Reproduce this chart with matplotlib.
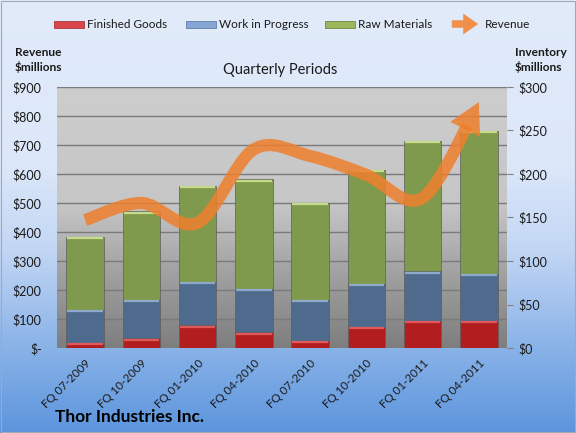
import numpy as np
import matplotlib
matplotlib.use("Agg")
import matplotlib.pyplot as plt
import matplotlib.transforms as mtransforms
from matplotlib.path import Path
from matplotlib.patches import PathPatch, Rectangle, FancyArrowPatch
from matplotlib.colors import LinearSegmentedColormap

# === DATA ===

quarters = ["FQ 07-2009", "FQ 10-2009", "FQ 01-2010", "FQ 04-2010",
            "FQ 07-2010", "FQ 10-2010", "FQ 01-2011", "FQ 04-2011"]

# inventory, $ millions (right axis)
finished_goods = [6, 11, 26, 18, 8, 24, 31, 31]
work_in_progress = [38, 44, 50, 50, 47, 50, 57, 54]
raw_materials = [84, 102, 110, 126, 112, 131, 150, 165]

# revenue, $ millions (left axis)
revenue = [441, 500, 432, 685, 662, 597, 518, 848]

revenue_ticks = [0, 100, 200, 300, 400, 500, 600, 700, 800, 900]
revenue_tick_labels = ["$-", "$100", "$200", "$300", "$400", "$500",
                       "$600", "$700", "$800", "$900"]
inventory_ticks = [0, 50, 100, 150, 200, 250, 300]
inventory_tick_labels = ["$0", "$50", "$100", "$150", "$200", "$250", "$300"]

# === STYLE ===

plt.rcParams["font.family"] = ["Lato", "DejaVu Sans"]

W, H = 576, 433
RED, BLUE, GREEN = "#B21E1F", "#4E6B8E", "#7F9A4C"
RED_HI, BLUE_HI, GREEN_HI = "#E0585A", "#8EA9CB", "#C6DC8A"
ORANGE = "#EE7F2D"
TEXT = "#1A1A1A"


def fx(px):
    return px / W


def fy(py):
    return 1 - py / H


fig = plt.figure(figsize=(W / 100, H / 100), dpi=100)

# figure background gradient
bg = fig.add_axes([0, 0, 1, 1], zorder=-10)
bg_cmap = LinearSegmentedColormap.from_list(
    "fig_bg", [(0.0, "#5C95DD"), (0.2, "#8AB3E8"), (0.42, "#C2D6F4"),
               (0.62, "#DCE7F9"), (1.0, "#E1EBFA")])
bg.imshow(np.linspace(0, 1, 256).reshape(-1, 1), cmap=bg_cmap, origin="lower",
          aspect="auto", extent=[0, 1, 0, 1])
bg.set_xlim(0, 1)
bg.set_ylim(0, 1)
bg.set_axis_off()
fig.add_artist(Rectangle((0.002, 0.002), 0.996, 0.995, transform=fig.transFigure,
                         fill=False, edgecolor="#9FA9B8", linewidth=0.8))

# plot area
left, right, top, bottom = 57, 507, 87, 348
ax = fig.add_axes([fx(left), fy(bottom), (right - left) / W, (bottom - top) / H])
ax.patch.set_visible(False)
ax2 = ax.twinx()

plot_cmap = LinearSegmentedColormap.from_list(
    "plot_bg", [(0.0, "#7E7E7E"), (0.3, "#A3A3A3"), (0.55, "#C6C6C6"),
                (1.0, "#CDCDCD")])
ax.imshow(np.linspace(0, 1, 256).reshape(-1, 1), cmap=plot_cmap, origin="lower",
          aspect="auto", extent=[0, 1, 0, 1], transform=ax.transAxes, zorder=0)

n = len(quarters)
x = np.arange(n)
ax.set_xlim(-0.5, n - 0.5)
ax.set_ylim(0, 300)

# gridlines follow the revenue scale
for t in revenue_ticks[1:]:
    ax.axhline(t * 300 / 900, color="#7A7A7A", linewidth=1.0, zorder=1)

# stacked inventory bars
width = 0.67
fg = np.array(finished_goods)
wip = np.array(work_in_progress)
rm = np.array(raw_materials)
segments = [(fg, np.zeros(n), RED, RED_HI),
            (wip, fg, BLUE, BLUE_HI),
            (rm, fg + wip, GREEN, GREEN_HI)]
hi_trans = mtransforms.offset_copy(ax.transData, fig=fig, y=-1.3, units="dots")
for vals, base, col, hi in segments:
    ax.bar(x, vals, width, bottom=base, color=col, edgecolor="#5E5E5E",
           linewidth=0.5, zorder=2)
    ax.hlines(base + vals, x - width / 2 + 0.02, x + width / 2 - 0.02,
              colors=hi, linewidth=1.6, transform=hi_trans, zorder=3)

ax.set_xticks(x)
ax.set_xticklabels(quarters, rotation=45, ha="right", rotation_mode="anchor",
                   fontsize=8.3, color=TEXT)
ax.tick_params(axis="x", length=0, pad=7)
ax.set_yticks(inventory_ticks)
ax.set_yticklabels(inventory_tick_labels, fontsize=9, color=TEXT)
ax.yaxis.tick_right()
ax.tick_params(axis="y", which="both", left=False, labelleft=False,
               right=True, labelright=True, length=4, color="#7F7F7F", pad=4)
for s in ax.spines.values():
    s.set_visible(False)

# revenue line on the twin axis
ax2.set_ylim(0, 900)
ax2.set_yticks(revenue_ticks)
ax2.set_yticklabels(revenue_tick_labels, fontsize=9, color=TEXT)
ax2.yaxis.tick_left()
ax2.tick_params(axis="y", right=False, labelright=False, left=True,
                labelleft=True, length=0, pad=11)
for s in ax2.spines.values():
    s.set_visible(False)

pts = np.column_stack([x, revenue]).astype(float)
ctrl = []
for i in range(n - 1):
    p_prev = pts[max(i - 1, 0)]
    p0, p1 = pts[i], pts[i + 1]
    p_next = pts[min(i + 2, n - 1)]
    ctrl.append((p0, p0 + (p1 - p_prev) / 6, p1 - (p_next - p0) / 6, p1))

# cut the last segment where the arrow head begins
fig.canvas.draw()
to_disp = ax2.transData.transform
a, b, c, d = ctrl[-1]


def bez(t):
    return ((1 - t) ** 3 * a + 3 * (1 - t) ** 2 * t * b
            + 3 * (1 - t) * t ** 2 * c + t ** 3 * d)


head_px = 26
ts = np.linspace(0, 1, 400)
dists = [np.hypot(*(to_disp(bez(t)) - to_disp(d))) for t in ts]
t_cut = ts[np.argmin(np.abs(np.array(dists) - head_px))]
# de Casteljau split
ab = a + (b - a) * t_cut
bc = b + (c - b) * t_cut
cd = c + (d - c) * t_cut
abc = ab + (bc - ab) * t_cut
bcd = bc + (cd - bc) * t_cut
cut = abc + (bcd - abc) * t_cut
ctrl[-1] = (a, ab, abc, cut)

verts = [ctrl[0][0]]
codes = [Path.MOVETO]
for seg in ctrl:
    verts += [seg[1], seg[2], seg[3]]
    codes += [Path.CURVE4] * 3
ax2.add_patch(PathPatch(Path(verts, codes), fill=False, edgecolor=ORANGE,
                        linewidth=8.8, alpha=0.85, capstyle="butt", zorder=5))
ax2.add_patch(FancyArrowPatch(
    cut, d, arrowstyle="-|>,head_length=22,head_width=12", mutation_scale=1,
    color=ORANGE, alpha=0.85, linewidth=0, shrinkA=0, shrinkB=0, zorder=5))

# === TEXT ===

fig.text(fx(15), fy(60), "Revenue\n$millions", fontsize=8.6, fontweight="bold",
         ha="left", va="center", color=TEXT, linespacing=1.35)
fig.text(fx(515), fy(60), "Inventory\n$millions", fontsize=8.6, fontweight="bold",
         ha="left", va="center", color=TEXT, linespacing=1.35)
fig.text(fx(280), fy(70), "Quarterly Periods", fontsize=10.5, ha="center",
         va="center", color=TEXT)
fig.text(fx(55), fy(417), "Thor Industries Inc.", fontsize=12.5, fontweight="bold",
         ha="left", va="center", color="black")

# manual legend
legend_items = [("Finished Goods", "#D9474C", "#A8383C", 54),
                ("Work in Progress", "#86A7D4", "#5E7FA8", 186),
                ("Raw Materials", "#9DB65E", "#6F8A3E", 325)]
for label, face, edge, px in legend_items:
    fig.add_artist(Rectangle((fx(px), fy(28)), 30 / W, 7 / H,
                             transform=fig.transFigure, facecolor=face,
                             edgecolor=edge, linewidth=0.6))
    fig.text(fx(px + 33), fy(24), label, fontsize=8.5, ha="left", va="center",
             color=TEXT)
fig.add_artist(FancyArrowPatch(
    (fx(449), fy(24)), (fx(481), fy(24)), transform=fig.transFigure,
    arrowstyle="simple,head_length=0.9,head_width=1.25,tail_width=0.45",
    mutation_scale=12, color="#F0904A", linewidth=0))
fig.text(fx(485), fy(24), "Revenue", fontsize=8.5, ha="left", va="center",
         color=TEXT)

fig.savefig("out.png", dpi=100)
